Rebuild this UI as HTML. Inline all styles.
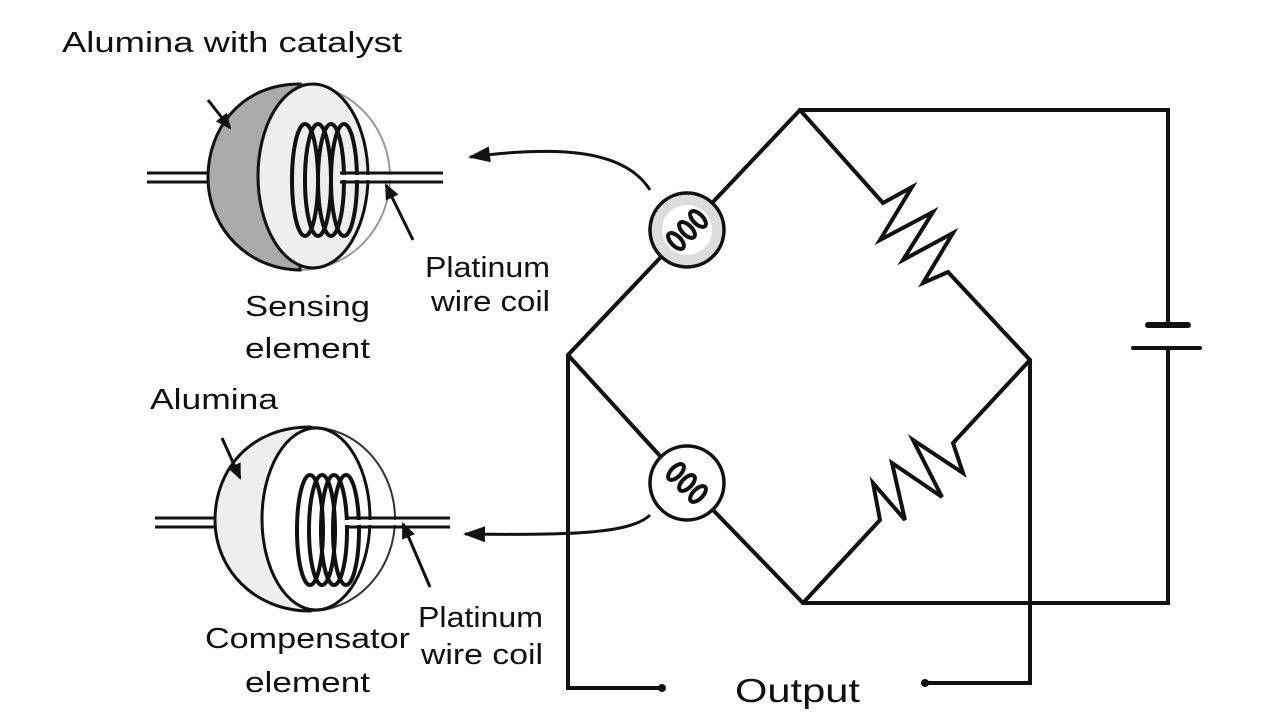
<!DOCTYPE html>
<html><head><meta charset="utf-8"><style>
html,body{margin:0;padding:0;background:#fff;width:1280px;height:721px;overflow:hidden}
text{font-family:"Liberation Sans",sans-serif;fill:#111}
</style></head><body>
<svg width="1280" height="721" viewBox="0 0 1280 721" xmlns="http://www.w3.org/2000/svg">
<defs>
<marker id="ah" markerWidth="16" markerHeight="14" refX="14" refY="7" orient="auto" markerUnits="userSpaceOnUse"><path d="M0,0 L16,7 L0,14 Z" fill="#111"/></marker>
<marker id="ab" markerWidth="22" markerHeight="16" refX="20" refY="8" orient="auto" markerUnits="userSpaceOnUse"><path d="M0,0 L22,8 L0,16 Z" fill="#111"/></marker>
</defs>
<g stroke="#111" stroke-width="4" fill="none" stroke-linecap="round" stroke-linejoin="miter">
<path d="M800,110 L1168,110 L1168,325"/>
<path d="M1168,348 L1168,603 L803,603"/>
<line x1="1148" y1="325" x2="1188" y2="325" stroke-width="6"/>
<line x1="1133" y1="348" x2="1200" y2="348" stroke-width="4"/>
<path d="M800,110 L713,202"/>
<path d="M660,258 L568,355"/>
<path d="M568,355 L661,457"/>
<path d="M713,510 L803,603"/>
<path d="M800,110 L883,203 L912,187 L880,240 L933,212 L903,260 L953,233 L923,283 L948,272 L1030,360"/>
<path d="M1030,360 L953,443 L963,473 L913,440 L942,497 L892,463 L905,520 L873,483 L880,520 L803,603"/>
<path d="M568,355 L568,688 L662,688"/>
<path d="M1030,360 L1030,683 L925,683"/>
</g>
<circle cx="662" cy="688" r="4" fill="#111"/>
<circle cx="925" cy="683" r="4" fill="#111"/>
<circle cx="687" cy="230" r="37" fill="#ddd" stroke="#111" stroke-width="3.5"/>
<circle cx="687" cy="230" r="25" fill="#fff"/>
<g stroke="#111" stroke-width="4" fill="none">
<ellipse cx="676" cy="241" rx="10" ry="5" transform="rotate(45 676 241)"/>
<ellipse cx="687" cy="230" rx="10" ry="5" transform="rotate(45 687 230)"/>
<ellipse cx="698" cy="219" rx="10" ry="5" transform="rotate(45 698 219)"/>
</g>
<circle cx="687" cy="483" r="37" fill="#fff" stroke="#111" stroke-width="3.5"/>
<g stroke="#111" stroke-width="4" fill="none">
<ellipse cx="676" cy="472" rx="10" ry="5" transform="rotate(-45 676 472)"/>
<ellipse cx="687" cy="483" rx="10" ry="5" transform="rotate(-45 687 483)"/>
<ellipse cx="698" cy="494" rx="10" ry="5" transform="rotate(-45 698 494)"/>
</g>
<g stroke="#111" stroke-width="3" fill="none">
<path d="M650,190 C625,150 560,145 470,157" marker-end="url(#ab)"/>
<path d="M650,515 C630,535 560,535 465,534" marker-end="url(#ab)"/>
</g>
<g stroke="#111" stroke-width="3">
<line x1="147" y1="173" x2="210" y2="173"/><line x1="147" y1="182" x2="210" y2="182"/>
<path d="M300,84 A90,93 0 0 1 300,270" fill="none" stroke="#999" stroke-width="2"/>
<path d="M300,84 C240,84 208,130 208,177 C208,230 250,270 300,270 Z" fill="#aaa"/>
<ellipse cx="313" cy="176" rx="55" ry="92" fill="#eee"/>
</g>
<g stroke="#111" stroke-width="4" fill="none">
<ellipse cx="305" cy="180" rx="13" ry="56"/>
<ellipse cx="318" cy="180" rx="13" ry="56"/>
<ellipse cx="331" cy="180" rx="13" ry="56"/>
<ellipse cx="344" cy="180" rx="13" ry="56"/>
</g>
<g stroke="#111" stroke-width="3">
<line x1="340" y1="173" x2="443" y2="173"/><line x1="340" y1="182" x2="443" y2="182"/>
</g>
<rect x="340" y="175" width="103" height="5" fill="#fff"/>
<g stroke="#111" stroke-width="3">
<line x1="155" y1="518" x2="217" y2="518"/><line x1="155" y1="527" x2="217" y2="527"/>
<path d="M310,427 A85,92 0 0 1 310,611" fill="none" stroke="#333" stroke-width="2"/>
<path d="M310,427 C250,427 215,470 215,520 C215,570 255,611 310,611 Z" fill="#eee"/>
<ellipse cx="316" cy="519" rx="54" ry="91" fill="#fff"/>
</g>
<g stroke="#111" stroke-width="4" fill="none">
<ellipse cx="310" cy="530" rx="13" ry="55"/>
<ellipse cx="322" cy="530" rx="13" ry="55"/>
<ellipse cx="334" cy="530" rx="13" ry="55"/>
<ellipse cx="346" cy="530" rx="13" ry="55"/>
</g>
<g stroke="#111" stroke-width="3">
<line x1="345" y1="518" x2="450" y2="518"/><line x1="345" y1="527" x2="450" y2="527"/>
</g>
<rect x="345" y="520" width="105" height="5" fill="#fff"/>
<g stroke="#111" stroke-width="3" fill="none">
<line x1="208" y1="100" x2="230" y2="128" marker-end="url(#ah)"/>
<line x1="413" y1="240" x2="386" y2="185" marker-end="url(#ah)"/>
<line x1="222" y1="438" x2="240" y2="478" marker-end="url(#ah)"/>
<line x1="430" y1="587" x2="403" y2="524" marker-end="url(#ah)"/>
</g>
<g font-size="29">
<text x="62" y="52" textLength="340" lengthAdjust="spacingAndGlyphs">Alumina with catalyst</text>
<text x="425" y="277" textLength="125" lengthAdjust="spacingAndGlyphs">Platinum</text>
<text x="431" y="311" textLength="119" lengthAdjust="spacingAndGlyphs">wire coil</text>
<text x="245" y="316" textLength="125" lengthAdjust="spacingAndGlyphs">Sensing</text>
<text x="245" y="358" textLength="125" lengthAdjust="spacingAndGlyphs">element</text>
<text x="150" y="409" textLength="128" lengthAdjust="spacingAndGlyphs">Alumina</text>
<text x="205" y="648" textLength="205" lengthAdjust="spacingAndGlyphs">Compensator</text>
<text x="245" y="692" textLength="125" lengthAdjust="spacingAndGlyphs">element</text>
<text x="418" y="627" textLength="125" lengthAdjust="spacingAndGlyphs">Platinum</text>
<text x="421" y="664" textLength="122" lengthAdjust="spacingAndGlyphs">wire coil</text>
<text x="735" y="702" font-size="33" textLength="125" lengthAdjust="spacingAndGlyphs">Output</text>
</g>
</svg>
</body></html>
